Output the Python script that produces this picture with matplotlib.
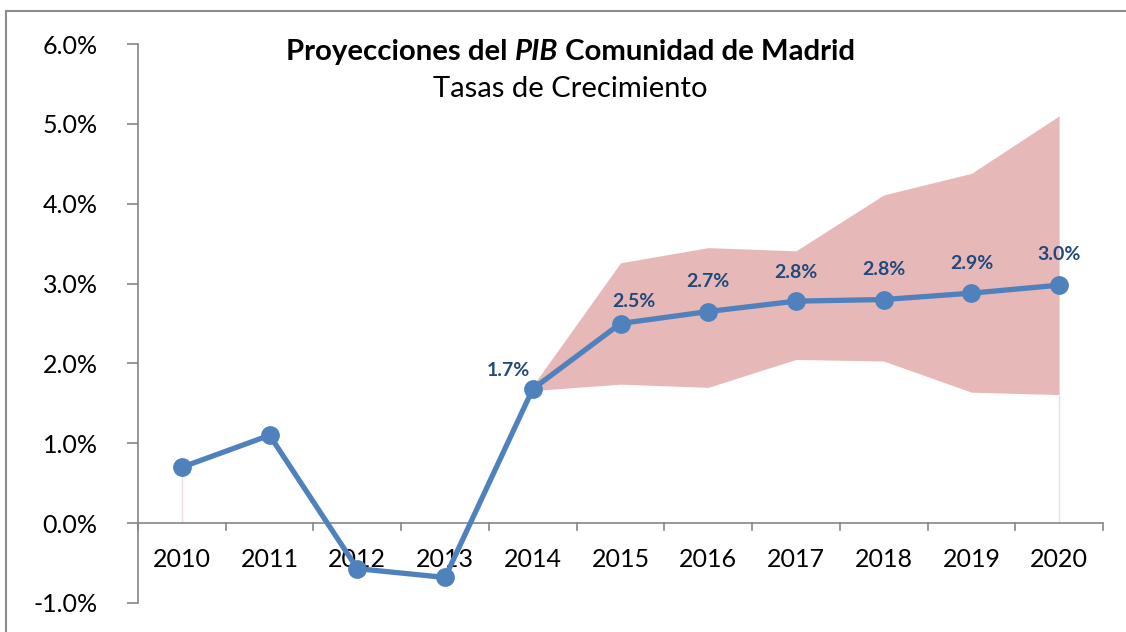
import matplotlib
matplotlib.use("Agg")
import matplotlib.pyplot as plt
from matplotlib.lines import Line2D
import numpy as np

years = ["2010", "2011", "2012", "2013", "2014", "2015", "2016", "2017", "2018", "2019", "2020"]
growth = [0.70, 1.10, -0.57, -0.68, 1.68, 2.50, 2.65, 2.78, 2.80, 2.88, 2.98]
band_years = ["2014", "2015", "2016", "2017", "2018", "2019", "2020"]
band_upper = [1.72, 3.26, 3.45, 3.41, 4.11, 4.38, 5.10]
band_lower = [1.66, 1.74, 1.70, 2.05, 2.03, 1.64, 1.61]
label_years = ["2014", "2015", "2016", "2017", "2018", "2019", "2020"]
label_texts = ["1.7%", "2.5%", "2.7%", "2.8%", "2.8%", "2.9%", "3.0%"]
yticks = [-1, 0, 1, 2, 3, 4, 5, 6]
ytick_labels = ["-1.0%", "0.0%", "1.0%", "2.0%", "3.0%", "4.0%", "5.0%", "6.0%"]
title_parts = ["Proyecciones del ", "PIB", " Comunidad de Madrid"]
subtitle = "Tasas de Crecimiento"

FONT = ["Lato", "DejaVu Sans"]
plt.rcParams["font.family"] = FONT

fig = plt.figure(figsize=(11.26, 6.32), dpi=100)
ax = fig.add_axes([138 / 1126, 1 - 603 / 632, (1103 - 138) / 1126, (603 - 44) / 632])

x = np.arange(len(years))
idx = {y: i for i, y in enumerate(years)}
bx = np.array([idx[y] for y in band_years])

# band
ax.fill_between(bx, band_lower, band_upper, color="#E6B9B8", linewidth=0, zorder=1)
# faint edges of hidden base area
ax.vlines([idx["2010"]], 0, [growth[0]], color="#F2DCDB", linewidth=1, zorder=1)
ax.vlines([idx["2020"]], 0, [band_lower[-1]], color="#F2DCDB", linewidth=1, zorder=1)

# zero axis
ax.axhline(0, color="#868686", linewidth=1.2, zorder=2)
for b in np.arange(len(years) + 1) - 0.5:
    ax.plot([b, b], [0, -0.09], color="#868686", linewidth=1.2, zorder=2, clip_on=False)

# line
ax.plot(x, growth, color="#4F81BD", linewidth=3.8, marker="o", markersize=12.5,
        markerfacecolor="#4F81BD", markeredgecolor="#4F81BD", zorder=4, clip_on=False)

# data labels
offsets = {"2014": (-24, 18), "2015": (13, 22), "2016": (0, 30), "2017": (0, 29),
           "2018": (0, 30), "2019": (0, 30), "2020": (0, 31)}
for ly, lt in zip(label_years, label_texts):
    i = idx[ly]
    ax.annotate(lt, (i, growth[i]), xytext=offsets[ly], textcoords="offset pixels",
                ha="center", va="center", fontsize=14, fontweight="bold",
                color="#1F497D", zorder=5)

# category labels
for i, y in enumerate(years):
    ax.text(i, -0.45, y, ha="center", va="center", fontsize=18, color="black", zorder=3)

ax.set_xlim(-0.5, len(years) - 0.5)
ax.set_ylim(-1, 6)
ax.set_xticks([])
ax.set_yticks(yticks)
ax.set_yticklabels(ytick_labels, fontsize=18)
ax.tick_params(axis="y", length=8, width=1.2, color="#868686", pad=21)
for s in ["top", "right", "bottom"]:
    ax.spines[s].set_visible(False)
ax.spines["left"].set_color("#868686")
ax.spines["left"].set_linewidth(1.2)

# title built from pieces (bold, bold-italic, bold)
renderer = fig.canvas.get_renderer()
styles = ["normal", "italic", "normal"]
tsize = 21.2
pieces = []
for part, st in zip(title_parts, styles):
    t = fig.text(0, 1 - 52 / 632, part, ha="left", va="center", fontsize=tsize,
                 fontweight="bold", fontstyle=st)
    pieces.append(t)
widths = [p.get_window_extent(renderer).width for p in pieces]
total = sum(widths)
xpos = 571 - total / 2
for p, w in zip(pieces, widths):
    p.set_x(xpos / 1126)
    xpos += w
fig.text(570 / 1126, 1 - 89 / 632, subtitle, ha="center", va="center", fontsize=21)

# outer chart border
fig.add_artist(Line2D([6 / 1126, 1.01], [1 - 11 / 632, 1 - 11 / 632], color="#8C8C8C", linewidth=1.5))
fig.add_artist(Line2D([6 / 1126, 6 / 1126], [1 - 11 / 632, -0.01], color="#8C8C8C", linewidth=1.5))

fig.savefig("out.png", dpi=100)
